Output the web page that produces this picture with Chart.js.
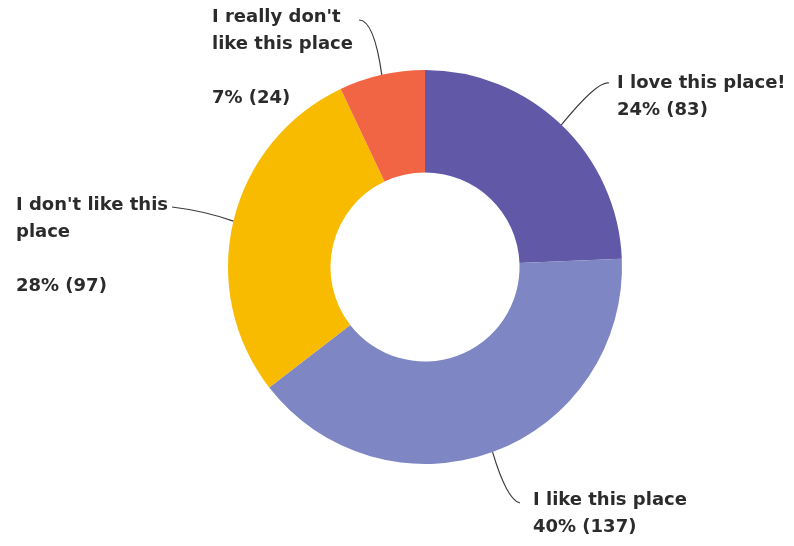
<!DOCTYPE html>
<html>
<head>
<meta charset="utf-8">
<script src="https://cdn.jsdelivr.net/npm/chart.js@4/dist/chart.umd.min.js"></script>
<style>
  html, body { margin: 0; padding: 0; background: #fff; }
  #wrap { width: 794px; height: 546px; }
</style>
</head>
<body>
<div id="wrap"><canvas id="donut" width="794" height="546"></canvas></div>
<script>
// Data
const labels = ['I love this place!', 'I like this place', "I don't like this place", "I really don't like this place"];
const counts = [83, 137, 97, 24];
const percents = [24, 40, 28, 7];
const colors = ['#6159a8', '#7e87c3', '#f8bb00', '#f26544'];

// Label layout: text lines, text position, leader line end and control point
const labelLayout = [
    { lines: ['I love this place!', '24% (83)'], x: 617, y: 83, gap: 27, end: [609, 83], ctrl: [598, 80] },
    { lines: ['I like this place', '40% (137)'], x: 533, y: 500, gap: 27, end: [520, 503], ctrl: [507, 500] },
    { lines: ["I don't like this", 'place', '', '28% (97)'], x: 16, y: 205, gap: 27, end: [172, 207], ctrl: [205, 211] },
    { lines: ["I really don't", 'like this place', '', '7% (24)'], x: 212, y: 17, gap: 27, end: [359, 20], ctrl: [374, 20] }
];

const calloutPlugin = {
    id: 'callouts',
    afterDraw(chart) {
        const ctx = chart.ctx;
        const meta = chart.getDatasetMeta(0);
        ctx.save();
        meta.data.forEach((arc, i) => {
            const L = labelLayout[i];
            const mid = (arc.startAngle + arc.endAngle) / 2;
            const ax = arc.x + Math.cos(mid) * arc.outerRadius;
            const ay = arc.y + Math.sin(mid) * arc.outerRadius;

            // leader line
            ctx.strokeStyle = '#3a3a3a';
            ctx.lineWidth = 1.2;
            ctx.beginPath();
            ctx.moveTo(ax, ay);
            ctx.quadraticCurveTo(L.ctrl[0], L.ctrl[1], L.end[0], L.end[1]);
            ctx.stroke();

            // text
            ctx.fillStyle = '#2b2b2b';
            ctx.font = 'bold 18px "DejaVu Sans", sans-serif';
            ctx.textBaseline = 'middle';
            ctx.textAlign = 'left';
            L.lines.forEach((t, j) => {
                if (t) ctx.fillText(t, L.x, L.y + j * L.gap);
            });
        });
        ctx.restore();
    }
};

new Chart(document.getElementById('donut').getContext('2d'), {
    type: 'doughnut',
    data: {
        labels: labels,
        datasets: [{
            data: counts,
            backgroundColor: colors,
            borderWidth: 0
        }]
    },
    options: {
        responsive: false,
        animation: false,
        cutout: '48%',
        layout: { padding: { left: 228, right: 172, top: 70, bottom: 82 } },
        plugins: {
            legend: { display: false },
            tooltip: { enabled: false }
        }
    },
    plugins: [calloutPlugin]
});
</script>
</body>
</html>
